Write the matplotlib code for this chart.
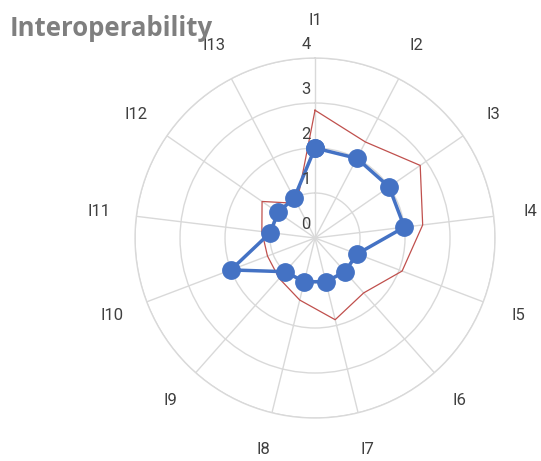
import numpy as np
import matplotlib
matplotlib.use("Agg")
import matplotlib.pyplot as plt

# Indicator names and the two series shown on the radar
categories = ["I1", "I2", "I3", "I4", "I5", "I6", "I7", "I8", "I9", "I10", "I11", "I12", "I13"]
blue_values = [2, 2, 2, 2, 1, 1, 1, 1, 1, 2, 1, 1, 1]
red_values = [2.84, 2.41, 2.84, 2.41, 2.07, 1.63, 1.87, 1.42, 1.2, 1.13, 1.19, 1.43, 0.87]
radial_ticks = [0, 1, 2, 3, 4]

title = "Interoperability"
BLUE = "#4472C4"
RED = "#C0504D"
GRID = "#D9D9D9"
TEXT = "#404040"

n = len(categories)
angles = np.arange(n) * 2 * np.pi / n
closed_angles = np.append(angles, angles[0])

fig = plt.figure(figsize=(5.41, 4.61), dpi=100)
ax = fig.add_axes([0.2496, 0.0932, 0.6654, 0.781], projection="polar")
ax.set_theta_zero_location("N")
ax.set_theta_direction(-1)
ax.set_ylim(0, 4)

ax.set_xticks(angles)
ax.set_xticklabels([])
ax.set_yticks(radial_ticks[1:])
ax.set_yticklabels([])
ax.grid(True, color=GRID, linewidth=1.0)
ax.spines["polar"].set_color(GRID)
ax.spines["polar"].set_linewidth(1.0)
ax.tick_params(length=0)

# Series
ax.plot(closed_angles, np.append(red_values, red_values[0]), color=RED,
        linewidth=0.9, zorder=3, clip_on=False)
ax.plot(closed_angles, np.append(blue_values, blue_values[0]), color=BLUE,
        linewidth=2.5, marker="o", markersize=12.5, zorder=4, clip_on=False)

# Category labels around the outside
for ang, lab in zip(angles, categories):
    ax.text(ang, 4.83, lab, ha="center", va="center", fontsize=12,
            color=TEXT, family="Roboto", clip_on=False)

# Radial value labels along the first spoke
for r in radial_ticks:
    ax.annotate(str(r), xy=(0, r), xytext=(-3, 10), textcoords="offset points",
                ha="right", va="center", fontsize=12, color=TEXT,
                family="Roboto", annotation_clip=False, zorder=5)

fig.text(0.017, 1 - 28 / 461, title, ha="left", va="center", fontsize=18.5,
         fontweight="bold", color="#7F7F7F", family="Open Sans")

fig.savefig("out.png", dpi=100)
